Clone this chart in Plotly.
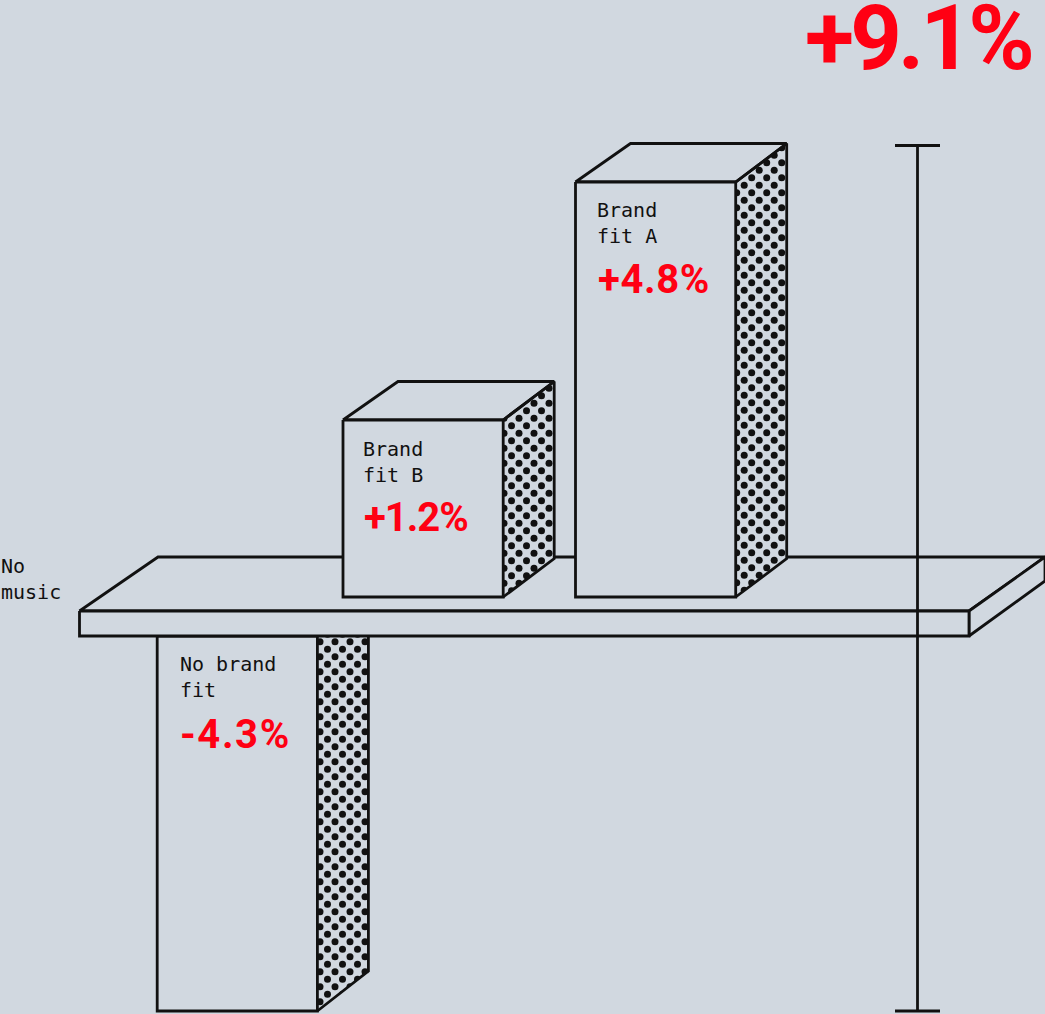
import plotly.graph_objects as go

# --- data -------------------------------------------------------------
categories = ["Brand<br>fit A", "Brand<br>fit B", "No brand<br>fit"]
value_labels = ["+4.8%", "+1.2%", "-4.3%"]
bar_values = [4.8, 1.2, -4.3]
drawn_heights = [415, 177, 375]      # illustration heights, not to one scale
baseline_label = "No<br>music"
total_label = "+9.1%"
total_value = 9.1

# --- styling / layout constants ---------------------------------------
BG = "#d1d8e0"
INK = "#111111"
RED = "#ff0013"
LW = 2.8
MONO = "DejaVu Sans Mono"
SANS = "Roboto"

SHELF_TOP_BASE = 597
HANG_BASE = 636
bar_left = [575.5, 343, 157.2]
bar_width = 160.2
depth_dx_far = 51
depth_dx_near = 55
depth_dy = 38.5
# lattice anchor for each bar's dotted side
dot_anchor = [(781.7, 162.7), (549.0, 388.3), (365.0, 641.7)]
DOT_STEP = 7.5

fig = go.Figure()


def poly(xs, ys, fill=BG, line=True):
    fig.add_trace(go.Scatter(
        x=list(xs) + [xs[0]], y=list(ys) + [ys[0]], mode="lines", fill="toself",
        fillcolor=fill,
        line=dict(color=INK if line else BG, width=LW if line else 0),
        hoverinfo="skip", showlegend=False))


def seg(xs, ys):
    fig.add_trace(go.Scatter(x=xs, y=ys, mode="lines",
                             line=dict(color=INK, width=LW),
                             hoverinfo="skip", showlegend=False))


def dots(ax, ay, x0, x1, y0, y1):
    px, py = [], []
    col = 0
    x = ax
    while x > x0 - 4:
        y = ay + (DOT_STEP if col % 2 else 0)
        while y - 15 >= y0:
            y -= 15
        while y <= y1:
            px.append(round(x, 2))
            py.append(round(y, 2))
            y += 15
        x -= DOT_STEP
        col += 1
    fig.add_trace(go.Scatter(x=px, y=py, mode="markers",
                             marker=dict(size=7, color=INK, line=dict(width=0)),
                             hoverinfo="skip", showlegend=False))


def upright_bar(i):
    x0 = bar_left[i]
    x1 = x0 + bar_width
    yb = SHELF_TOP_BASE
    yt = yb - drawn_heights[i]
    far = x1 + depth_dx_far
    # blank side face, so the shelf's back edge does not show through
    poly([x1, far, far, x1], [yt, yt - depth_dy, yb - depth_dy, yb], line=False)
    dots(dot_anchor[i][0], dot_anchor[i][1], x1, far, yt - depth_dy, yb)
    # masks that trim the dot lattice to the side face
    poly([x1, far, far + 4, x1], [yb, yb - depth_dy, yb + 5, yb + 5], line=False)
    poly([x0, x0 + depth_dx_near, far, x1], [yt, yt - depth_dy, yt - depth_dy, yt])
    seg([x1, far, far, x1], [yt, yt - depth_dy, yb - depth_dy, yb])
    poly([x0, x1, x1, x0], [yt, yt, yb, yb])


# hanging bar (drawn first so the shelf sits on top of it)
hx0 = bar_left[2]
hx1 = hx0 + bar_width
hyb = HANG_BASE + drawn_heights[2]
hfar = hx1 + depth_dx_far
dots(dot_anchor[2][0], dot_anchor[2][1], hx1, hfar, HANG_BASE - 8, hyb)
poly([hx1, hfar, hfar + 4, hx1], [hyb, hyb - 40, hyb + 3, hyb + 3], line=False)
seg([hfar, hfar, hx1], [HANG_BASE, hyb - 40, hyb])
poly([hx0, hx1, hx1, hx0], [HANG_BASE, HANG_BASE, hyb, hyb])

# shelf
poly([79.5, 158, 1045, 969], [611, 557, 557, 611])
poly([969, 1045, 1045, 969], [611, 557, 581, 636])
poly([79.5, 969, 969, 79.5], [611, 611, 636, 636])

# upright bars
upright_bar(1)
upright_bar(0)

# total bracket
BR_X, BR_TOP, BR_BOT, CAP = 917.5, 145.5, 1011, 22.5
seg([BR_X, BR_X], [BR_TOP, BR_BOT])
seg([BR_X - CAP, BR_X + CAP], [BR_TOP, BR_TOP])
seg([BR_X - CAP, BR_X + CAP], [BR_BOT, BR_BOT])


def note(x, y, text, size, color, family, weight=400, anchor="left"):
    fig.add_annotation(x=x, y=y, text=text, showarrow=False, xanchor=anchor, yanchor="middle",
                       align="left", xshift=0, borderpad=0, borderwidth=0,
                       font=dict(size=size, color=color, family=family, weight=weight))


label_pos = [(597, 223), (363, 462), (180, 677)]
value_pos = [(598, 279), (364, 517), (180, 734)]
for (lx, ly), (vx, vy), c, v in zip(label_pos, value_pos, categories, value_labels):
    note(lx, ly, c, 20, INK, MONO)
    note(vx, vy, v, 40, RED, SANS, 700)
note(1, 579, baseline_label, 20, INK, MONO)
note(804.5, 38, total_label, 90, RED, SANS, 700)

fig.update_layout(
    width=1045, height=1014, margin=dict(l=0, r=0, t=0, b=0),
    paper_bgcolor=BG, plot_bgcolor=BG, showlegend=False,
    xaxis=dict(range=[0, 1045], visible=False, fixedrange=True),
    yaxis=dict(range=[1014, 0], visible=False, fixedrange=True),
)

tracking_js = """
document.body.style.margin = '0';
document.body.style.background = '%s';
var tracking = {'+9.1%%': '-3.8px', '+4.8%%': '0.6px', '+1.2%%': '-1px', '-4.3%%': '1.6px'};
document.querySelectorAll('.annotation-text').forEach(function (t) {
  var k = t.textContent;
  if (tracking[k]) { t.style.letterSpacing = tracking[k]; }
});
""" % BG

fig.write_html("out.html", post_script=tracking_js, config={"displayModeBar": False})
